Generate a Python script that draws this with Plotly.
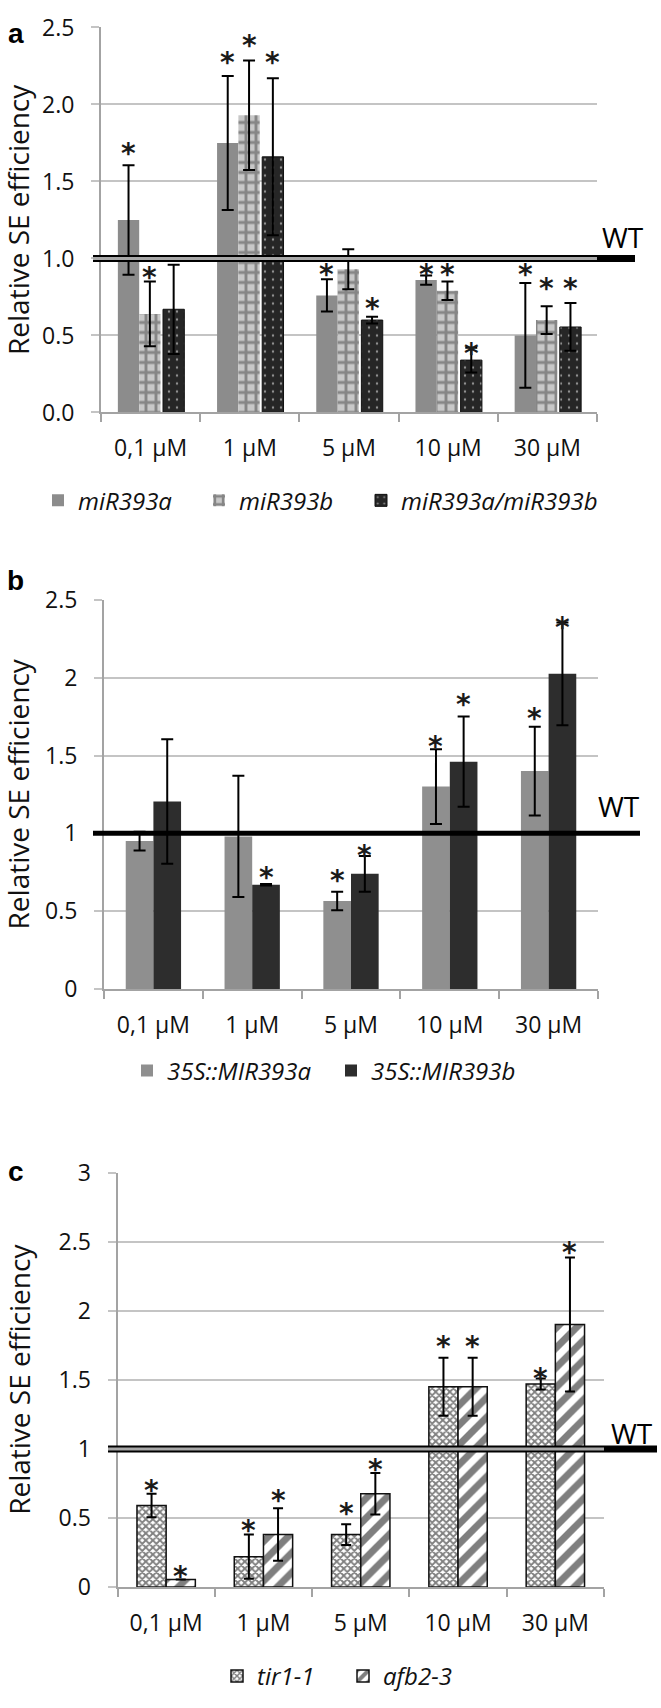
import plotly.graph_objects as go

W, H = 661, 1708


def px(x):
    return x / W


def py(y):
    return 1 - y / H


categories = ["0,1 µM", "1 µM", "5 µM", "10 µM", "30 µM"]

# ---- panel a ----
a_names = ["miR393a", "miR393b", "miR393a/miR393b"]
a_mir393a = [1.25, 1.75, 0.76, 0.86, 0.50]
a_mir393a_err = [0.355, 0.435, 0.105, 0.03, 0.34]
a_mir393b = [0.64, 1.93, 0.93, 0.79, 0.60]
a_mir393b_err = [0.21, 0.355, 0.13, 0.06, 0.09]
a_mir393ab = [0.67, 1.66, 0.60, 0.34, 0.555]
a_mir393ab_err = [0.29, 0.51, 0.022, 0.08, 0.155]
a_star_a = [1.73, 2.32, 0.94, 0.94, 0.94]
a_star_b = [0.92, 2.43, None, 0.94, 0.85]
a_star_ab = [None, 2.32, 0.72, 0.43, 0.85]
a_yticks = [0, 0.5, 1.0, 1.5, 2.0, 2.5]

# ---- panel b ----
b_names = ["35S::MIR393a", "35S::MIR393b"]
b_35a = [0.95, 0.98, 0.565, 1.30, 1.40]
b_35a_err = [0.06, 0.39, 0.06, 0.24, 0.285]
b_35b = [1.205, 0.67, 0.74, 1.46, 2.025]
b_35b_err = [0.40, 0.005, 0.115, 0.29, 0.33]
b_star_a = [None, None, 0.74, 1.60, 1.78]
b_star_b = [None, 0.76, 0.90, 1.87, 2.37]
b_yticks = [0, 0.5, 1, 1.5, 2, 2.5]

# ---- panel c ----
c_names = ["tir1-1", "afb2-3"]
c_tir = [0.59, 0.22, 0.38, 1.45, 1.47]
c_tir_err = [0.085, 0.16, 0.075, 0.21, 0.04]
c_afb = [0.055, 0.38, 0.675, 1.45, 1.90]
c_afb_err = [0.0, 0.19, 0.15, 0.21, 0.485]
c_star_tir = [0.75, 0.46, 0.58, 1.79, 1.56]
c_star_afb = [0.13, 0.68, 0.90, 1.79, 2.47]
c_yticks = [0, 0.5, 1, 1.5, 2, 2.5, 3]

WT_level = 1.0

FONT = "Open Sans"
GRID = "#c4c4c4"
AXIS = "#a3a3a3"
TXT = "#111111"

fig = go.Figure()

annotations = []


def add_bar(name, vals, errs, stars, sub, width, offset, color, pattern, line, legend, capw):
    suf = "" if sub == 1 else str(sub)
    fig.add_trace(go.Bar(
        x=categories, y=vals, name=name, width=width, offset=offset,
        marker=dict(color=color, line=line, pattern=pattern),
        error_y=dict(type="data", array=errs, visible=True, color="black",
                     thickness=2, width=capw),
        xaxis="x" + suf, yaxis="y" + suf, legend=legend, showlegend=True,
        hoverinfo="skip",
    ))
    for i, s in enumerate(stars):
        if s is None:
            continue
        annotations.append(dict(
            x=i + offset + width / 2, y=s, xref="x" + suf, yref="y" + suf,
            text="<b>*</b>", showarrow=False, yanchor="middle", yshift=-7,
            font=dict(family="DejaVu Sans", size=28, color="#1a1a1a"),
        ))


no_line = dict(width=0)
# panel a
add_bar(a_names[0], a_mir393a, a_mir393a_err, a_star_a, 1, 0.215, -0.33, "#8c8c8c",
        dict(shape=""), no_line, "legend", 6)
add_bar(a_names[1], a_mir393b, a_mir393b_err, a_star_b, 1, 0.215, -0.115, "#c8c8c8",
        dict(shape="+", fgcolor="#444444", bgcolor="#c8c8c8", size=10, solidity=0.5),
        no_line, "legend2", 6)
add_bar(a_names[2], a_mir393ab, a_mir393ab_err, a_star_ab, 1, 0.215, 0.125, "#262626",
        dict(shape=".", fgcolor="#ffffff", bgcolor="#262626", size=8, solidity=0.07),
        dict(color="#111111", width=1), "legend3", 6)
# panel b
add_bar(b_names[0], b_35a, b_35a_err, b_star_a, 2, 0.28, -0.28, "#8f8f8f",
        dict(shape=""), no_line, "legend4", 6)
add_bar(b_names[1], b_35b, b_35b_err, b_star_b, 2, 0.28, 0.0, "#2d2d2d",
        dict(shape=""), no_line, "legend5", 6)
# panel c
add_bar(c_names[0], c_tir, c_tir_err, c_star_tir, 3, 0.30, -0.30, "#ffffff",
        dict(shape="x", fgcolor="#000000", bgcolor="#ffffff", size=5, solidity=0.6),
        dict(color="#111111", width=1.5), "legend6", 5)
add_bar(c_names[1], c_afb, c_afb_err, c_star_afb, 3, 0.30, 0.0, "#ffffff",
        dict(shape="/", fgcolor="#000000", bgcolor="#ffffff", size=14, solidity=0.5),
        dict(color="#111111", width=1.5), "legend7", 5)

panels = [
    dict(x0=101, x1=597, ytop=10.7, ybot=403, ymax=2.5, ticks=a_yticks, fmt=".1f"),
    dict(x0=104, x1=598, ytop=594, ybot=990.5, ymax=2.5, ticks=b_yticks, fmt=""),
    dict(x0=117.5, x1=604, ytop=1177.7, ybot=1600, ymax=3.0, ticks=c_yticks, fmt=""),
]

layout = dict(
    width=W, height=H, margin=dict(l=0, r=0, t=0, b=0),
    paper_bgcolor="white", plot_bgcolor="white",
    barmode="overlay", hovermode=False,
    font=dict(family=FONT, color=TXT),
)

for k, p in enumerate(panels, start=1):
    suf = "" if k == 1 else str(k)
    layout["xaxis" + suf] = dict(
        domain=[px(p["x0"]), px(p["x1"])], anchor="y" + suf,
        type="category", categoryorder="array", categoryarray=categories,
        range=[-0.5, 4.5], showline=True, linecolor=AXIS, linewidth=2,
        ticks="outside", tickson="boundaries", ticklen=8, tickcolor=AXIS, tickwidth=2,
        showgrid=False, tickfont=dict(family=FONT, size=23, color=TXT),
        ticklabelstandoff=14, fixedrange=True,
    )
    ytick_text = [format(v, p["fmt"]) if p["fmt"] else ("%g" % v) for v in p["ticks"]]
    layout["yaxis" + suf] = dict(
        domain=[py(p["ybot"]), py(p["ytop"])], anchor="x" + suf,
        range=[0, p["ymax"]], tickmode="array", tickvals=p["ticks"], ticktext=ytick_text,
        showgrid=True, gridcolor=GRID, gridwidth=2, zeroline=False,
        showline=True, linecolor=AXIS, linewidth=2,
        ticks="outside", ticklen=8, tickcolor=GRID, tickwidth=2,
        tickfont=dict(family=FONT, size=23, color=TXT),
        ticklabelstandoff=12, fixedrange=True,
    )

# legends (one per series to place each entry like the original)
legend_specs = [
    ("legend", 38, 493), ("legend2", 199, 493), ("legend3", 361, 493),
    ("legend4", 127, 1074), ("legend5", 331, 1074),
    ("legend6", 217, 1691), ("legend7", 343, 1691),
]
for key, lx, ly in legend_specs:
    layout[key] = dict(
        x=px(lx), y=py(ly), xanchor="left", yanchor="middle", orientation="h",
        bgcolor="rgba(0,0,0,0)", borderwidth=0,
        font=dict(family=FONT, size=24, color=TXT, style="italic"),
        itemwidth=30, itemclick=False, itemdoubleclick=False,
    )

# WT reference lines
shapes = []
wt_specs = [
    (1, 93, 597, 635, True),
    (2, 93, 597, 640, False),
    (3, 108, 604, 657, True),
]
for sub, xs, xm, xe, double in wt_specs:
    suf = "" if sub == 1 else str(sub)
    shapes.append(dict(type="line", xref="paper", yref="y" + suf,
                       x0=px(xs), x1=px(xe), y0=WT_level, y1=WT_level,
                       line=dict(color="#000000", width=7 if double else 5), layer="above"))
    if double:
        shapes.append(dict(type="line", xref="paper", yref="y" + suf,
                           x0=px(xs), x1=px(xm), y0=WT_level, y1=WT_level,
                           line=dict(color="#a8a8a8", width=3), layer="above"))

# WT labels (right edge, vertical centre)
for rx, cy in [(646, 224), (642, 804), (655, 1443)]:
    annotations.append(dict(x=px(rx), y=py(cy), xref="paper", yref="paper", text="WT",
                            showarrow=False, xanchor="right", yanchor="middle",
                            font=dict(family=FONT, size=28, color="#000000")))

# y-axis titles
for cx, p in zip([18, 18, 19], panels):
    annotations.append(dict(x=px(cx), y=py((p["ytop"] + p["ybot"]) / 2), xref="paper",
                            yref="paper", text="Relative SE efficiency", textangle=-90,
                            showarrow=False, xanchor="center", yanchor="middle",
                            font=dict(family=FONT, size=28, color=TXT)))

# panel letters
for letter, cx, cy in [("a", 16, 17), ("b", 15, 574), ("c", 16, 1177)]:
    annotations.append(dict(x=px(cx), y=py(cy), xref="paper", yref="paper",
                            text="<b>%s</b>" % letter, showarrow=False,
                            xanchor="center", yanchor="middle",
                            font=dict(family="Liberation Sans", size=28, color="#000000")))

layout["shapes"] = shapes
layout["annotations"] = annotations
fig.update_layout(**layout)
fig.write_html(
    "out.html",
    config={"displayModeBar": False, "staticPlot": False},
    post_script="document.body.style.margin='0';document.body.style.overflow='hidden';",
)
